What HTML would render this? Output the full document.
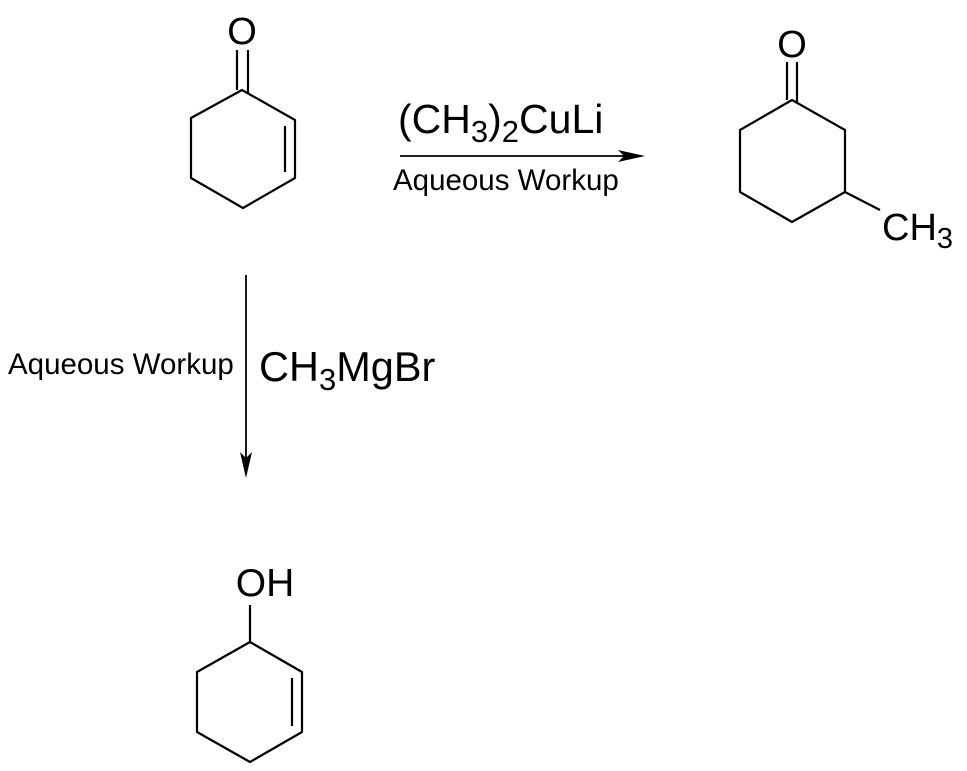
<!DOCTYPE html>
<html><head><style>body{margin:0;background:#fff}svg{display:block}</style></head><body>
<svg width="967" height="771" viewBox="0 0 967 771" xmlns="http://www.w3.org/2000/svg" font-family="Liberation Sans, Arial, sans-serif">
<g stroke="#000" stroke-width="2.2" fill="none" stroke-linejoin="round">
<polygon points="242,90 295,120 295,178 243,208 191,178 191,118"/>
<line x1="285" y1="126" x2="285" y2="172"/>
<line x1="237" y1="50" x2="237" y2="90"/><line x1="248" y1="50" x2="248" y2="93"/>
<polygon points="792,100 845,130 845,192 792,222 740,192 740,130"/>
<line x1="787" y1="62" x2="787" y2="100"/><line x1="797" y1="62" x2="797" y2="103"/>
<line x1="845" y1="192" x2="880" y2="210"/>
<polygon points="250,642 302,672 302,732 250,762 197,732 197,672"/>
<line x1="292" y1="678" x2="292" y2="726"/>
<line x1="250" y1="605" x2="250" y2="642"/>
<line x1="400" y1="156" x2="625" y2="156" stroke-width="1.8"/>
<line x1="246" y1="275" x2="246" y2="460" stroke-width="1.8"/>
</g>
<polygon points="645,156 618,150 624,156 618,162" fill="#000"/>
<polygon points="246,478 240,452 246,458 252,452" fill="#000"/>
<g fill="#000">
<text x="242" y="44" font-size="38" text-anchor="middle">O</text>
<text x="792" y="57" font-size="38" text-anchor="middle">O</text>
<text x="882" y="240" font-size="38">CH<tspan font-size="29" dy="8">3</tspan></text>
<text x="265" y="596" font-size="39" text-anchor="middle">OH</text>
<text x="398" y="133" font-size="41">(CH<tspan font-size="31" dy="9">3</tspan><tspan dy="-9">)</tspan><tspan font-size="31" dy="9">2</tspan><tspan dy="-9">CuLi</tspan></text>
<text x="393" y="190" font-size="29.5">Aqueous Workup</text>
<text x="8" y="374" font-size="29.5">Aqueous Workup</text>
<text x="259" y="381" font-size="41.5">CH<tspan font-size="31" dy="9">3</tspan><tspan dy="-9">MgBr</tspan></text>
</g>
</svg>
</body></html>
